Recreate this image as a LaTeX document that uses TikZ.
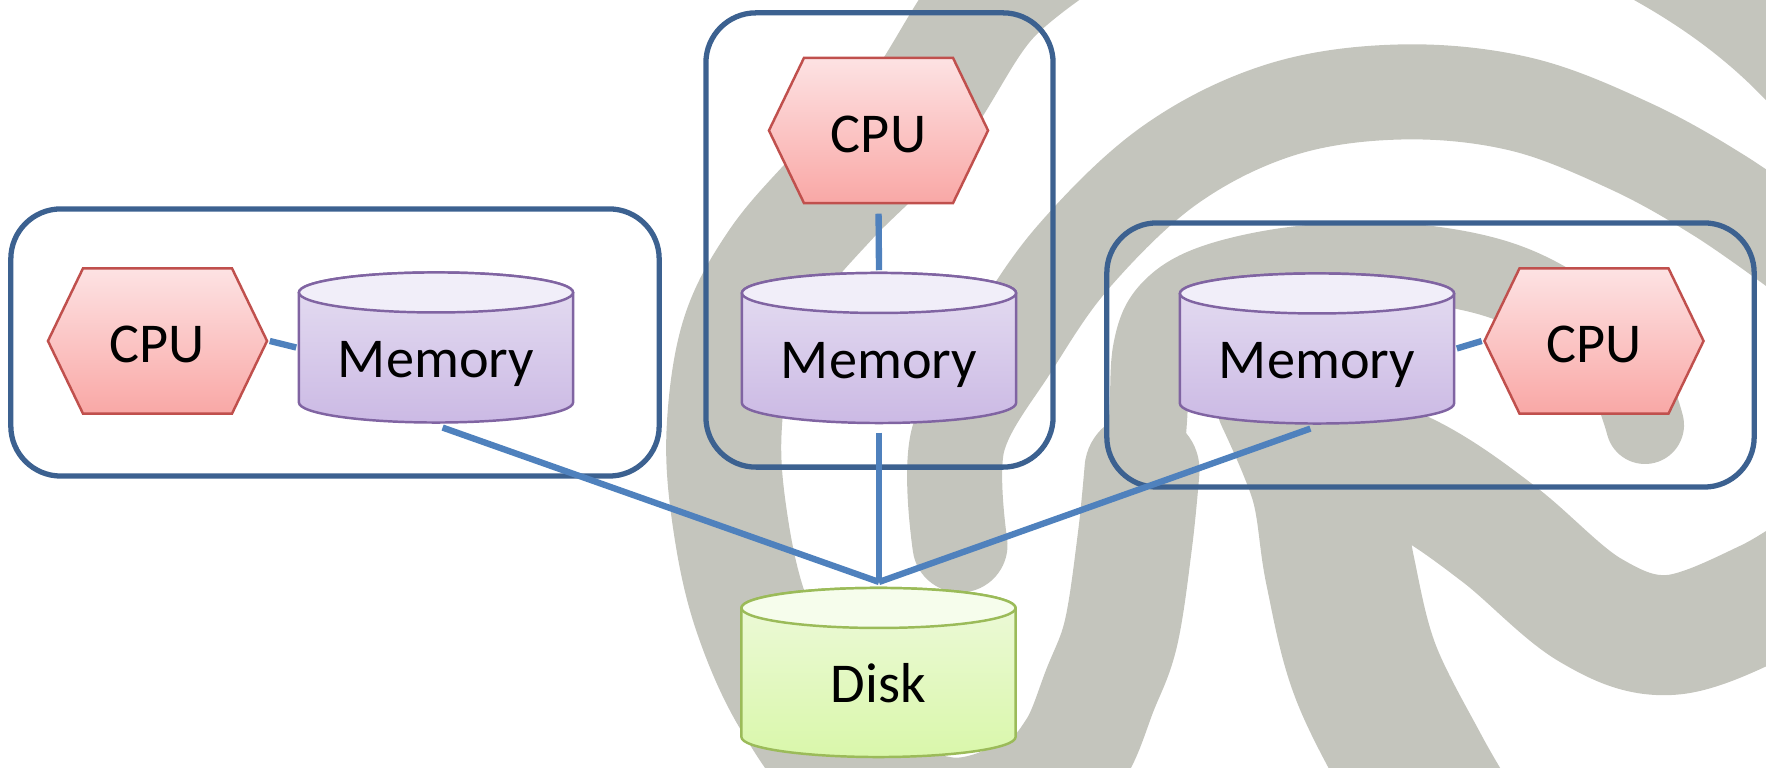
\documentclass[tikz,border=0pt]{standalone}
\usepackage{fontspec}
\setmainfont{Carlito}
\definecolor{boxblue}{HTML}{3C6190}
\definecolor{linkblue}{HTML}{4F81BD}
\definecolor{swirlgray}{HTML}{C4C5BD}
\definecolor{cputop}{HTML}{FDE3E4}
\definecolor{cpubot}{HTML}{F9A7A5}
\definecolor{cpuedge}{HTML}{C0504D}
\definecolor{memtop}{HTML}{F1EEF9}
\definecolor{membodytop}{HTML}{E6DFF2}
\definecolor{membot}{HTML}{CBB9E4}
\definecolor{memedge}{HTML}{8064A2}
\definecolor{disktop}{HTML}{F6FDEC}
\definecolor{diskbodytop}{HTML}{EEFADC}
\definecolor{diskbot}{HTML}{D9F7AA}
\definecolor{diskedge}{HTML}{9BBB59}
\tikzset{
  swirl/.style={draw=swirlgray, line cap=round, line join=round},
  groupbox/.style={rectangle, draw=boxblue, line width=1.5pt, rounded corners=0.5cm, inner sep=0pt},
  link/.style={draw=linkblue, line width=1.8pt},
  hexnode/.style={rectangle, inner sep=0pt, minimum width=2.23cm, minimum height=1.49cm,
    font=\fontsize{16}{19}\selectfont, text height=0.44cm, text depth=0pt,
    path picture={
      \shade[top color=cputop, bottom color=cpubot, draw=cpuedge, line width=0.7pt]
        ([xshift=0.02cm]path picture bounding box.west)
        -- ([xshift=0.37cm,yshift=-0.02cm]path picture bounding box.north west)
        -- ([xshift=-0.37cm,yshift=-0.02cm]path picture bounding box.north east)
        -- ([xshift=-0.02cm]path picture bounding box.east)
        -- ([xshift=-0.37cm,yshift=0.02cm]path picture bounding box.south east)
        -- ([xshift=0.37cm,yshift=0.02cm]path picture bounding box.south west)
        -- cycle;
    }},
  cylnode/.style n args={4}{rectangle, inner sep=0pt, minimum width=2.78cm,
    font=\fontsize{16}{19}\selectfont, text height=0.6cm, text depth=0pt,
    path picture={
      \shade[top color=#2, bottom color=#3, draw=#4, line width=0.7pt]
        ([xshift=0.02cm,yshift=-0.22cm]path picture bounding box.north west)
        -- ([xshift=0.02cm,yshift=0.22cm]path picture bounding box.south west)
        arc[start angle=180, end angle=360, x radius=1.37cm, y radius=0.2cm]
        -- ([xshift=-0.02cm,yshift=-0.22cm]path picture bounding box.north east)
        arc[start angle=0, end angle=180, x radius=1.37cm, y radius=0.2cm]
        -- cycle;
      \filldraw[fill=#1, draw=#4, line width=0.7pt]
        ([yshift=-0.22cm]path picture bounding box.north) ellipse [x radius=1.37cm, y radius=0.2cm];
    }},
  memnode/.style={cylnode={memtop}{membodytop}{membot}{memedge}, minimum height=1.54cm},
  disknode/.style={cylnode={disktop}{diskbodytop}{diskbot}{diskedge}, minimum height=1.73cm},
}
\begin{document}
\begin{tikzpicture}[x=0.01cm, y=-0.01cm]
\useasboundingbox (0,0) rectangle (1766,768);
% background swirl
\begin{scope}
  \clip (0,0) rectangle (1766,768);
  \fill[swirlgray] (1625,-5) .. controls (1680,25) and (1730,60) .. (1775,110) -- (1775,-5) -- cycle;
  \draw[swirl, line width=1.15cm] plot[smooth, tension=0.6] coordinates
    {(1080,-70) (990,0) (915,113) (830,200) (775,265) (738,338) (724,433) (730,520) (750,610) (790,700) (850,775) (950,815) (1035,790) (1075,750) (1100,690) (1121,633) (1135,540) (1142,470)};
  \draw[swirl, line width=0.78cm] plot[smooth, tension=0.6] coordinates
    {(1140,520) (1148,420) (1152,350) (1170,310) (1215,283) (1300,265) (1400,262) (1500,280) (1575,320) (1625,375) (1645,425)};
  \draw[swirl, line width=0.95cm] plot[smooth, tension=0.6] coordinates
    {(960,545) (958,440) (1012,345) (1075,255) (1170,165) (1280,110) (1400,92) (1520,104) (1630,146) (1720,196) (1800,252)};
  \draw[swirl, line width=1.5cm] plot[smooth, tension=0.6] coordinates
    {(1290,395) (1325,480) (1340,570) (1365,670) (1415,770) (1450,830)};
  \draw[swirl, line width=1.2cm] plot[smooth, tension=0.6] coordinates
    {(1330,440) (1420,480) (1500,535) (1590,610) (1670,635) (1766,600) (1830,560)};
\end{scope}
% group boxes
\node[groupbox, minimum width=6.48cm, minimum height=2.67cm] (lbox) at (335,342.5) {};
\node[groupbox, minimum width=3.47cm, minimum height=4.54cm] (mbox) at (879.5,240) {};
\node[groupbox, minimum width=6.47cm, minimum height=2.64cm] (rbox) at (1430.5,355) {};
% components
\node[hexnode] (lcpu) at (157.5,341) {CPU};
\node[memnode] (lmem) at (436,347.5) {Memory};
\node[hexnode] (mcpu) at (878.5,130.5) {CPU};
\node[memnode] (mmem) at (879,348) {Memory};
\node[memnode] (rmem) at (1317,348.5) {Memory};
\node[hexnode] (rcpu) at (1594,341) {CPU};
\node[disknode] (disk) at (878.5,672.5) {Disk};
\coordinate (hub) at (879,582);
% connectors
\draw[link] (lcpu.east) -- (lmem.west);
\draw[link, shorten <=0.08cm] (mcpu.south) -- (mmem.north);
\draw[link] (rmem.east) -- (rcpu.west);
\draw[link, shorten <=0.07cm] (lmem.south) -- (hub);
\draw[link, shorten <=0.07cm] (mmem.south) -- (hub);
\draw[link, shorten <=0.07cm] (rmem.south) -- (hub);
\end{tikzpicture}
\end{document}
